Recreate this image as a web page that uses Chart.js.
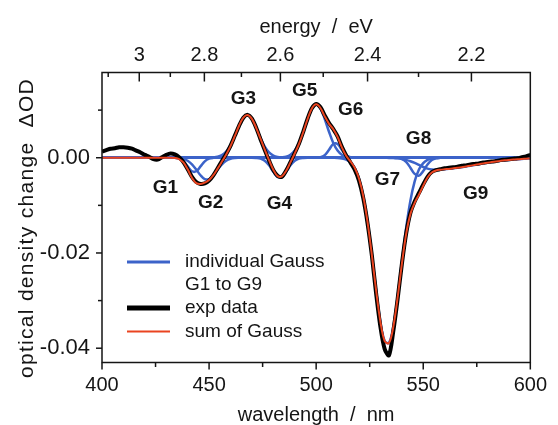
<!DOCTYPE html>
<html>
<head>
<meta charset="utf-8">
<script src="https://cdn.jsdelivr.net/npm/chart.js@4.4.0/dist/chart.umd.min.js"></script>
<style>
  html, body { margin: 0; padding: 0; background: #ffffff; }
  #wrap { width: 558px; height: 425px; }
</style>
</head>
<body>
<div id="wrap"><canvas id="chart" width="558" height="425"></canvas></div>
<script>
// Wavelength grid (nm) of the measured spectrum and of the fitted sum
const wavelength = [400,402,404,406,408,410,412,414,416,418,420,422,424,426,428,430,432,434,436,438,
  440,442,444,446,448,450,452,454,456,458,460,462,464,466,468,470,472,474,476,478,
  480,482,484,486,488,490,492,494,496,498,500,502,504,506,508,510,512,514,516,518,
  520,522,524,526,528,530,532,534,536,538,540,542,544,546,548,550,552,554,556,558,
  560,562,564,566,568,570,572,574,576,578,580,582,584,586,588,590,592,594,596,598,600];

// Measured transient absorption (ΔOD)
const expData = [0.0013,0.0016,0.0019,0.0020,0.0022,0.0022,0.0021,0.0019,0.0015,0.0011,
  0.0006,0.0002,-0.0003,-0.0004,0.0001,0.0006,0.0009,0.0007,0.0001,-0.0009,
  -0.0024,-0.0040,-0.0051,-0.0055,-0.0054,-0.0048,-0.0037,-0.0022,-0.0007,0.0008,
  0.0025,0.0046,0.0067,0.0084,0.0090,0.0082,0.0063,0.0039,0.0016,-0.0006,
  -0.0026,-0.0038,-0.0040,-0.0027,-0.0009,0.0010,0.0030,0.0055,0.0082,0.0104,
  0.0113,0.0106,0.0089,0.0073,0.0060,0.0045,0.0023,0.0005,-0.0010,-0.0025,
  -0.0048,-0.0085,-0.0138,-0.0205,-0.0285,-0.0355,-0.0402,-0.0415,-0.0365,-0.0298,
  -0.0224,-0.0160,-0.0116,-0.0092,-0.0074,-0.0056,-0.0040,-0.0030,-0.0026,-0.0024,
  -0.0022,-0.0021,-0.0020,-0.0019,-0.0017,-0.0016,-0.0014,-0.0013,-0.0012,-0.0010,
  -0.0009,-0.0008,-0.0007,-0.0005,-0.0004,-0.0003,-0.0002,-0.0001,0.0001,0.0003,0.0006];

// Sum of the nine Gaussian components
const gaussSum = [0,0,0,0,0,0,0,0,0,0,0,0,0,0,0,0,0,
  -0.00005,-0.00027,-0.00098,-0.00244,-0.00421,-0.00532,-0.00550,-0.00524,-0.00467,-0.00365,
  -0.00228,-0.00081,0.00070,0.00244,0.00452,0.00672,0.00844,0.00899,0.00817,0.00628,
  0.00399,0.00172,-0.00048,-0.00251,-0.00386,-0.00392,-0.00275,-0.00097,0.00089,0.00293,
  0.00541,0.00813,0.01034,0.01121,0.01045,0.00869,0.00712,0.00599,0.00437,0.00216,
  0.00040,-0.00076,-0.00211,-0.00437,-0.00808,-0.01350,-0.02040,-0.02788,-0.03446,-0.03850,
  -0.03892,-0.03557,-0.02950,-0.02238,-0.01610,-0.01184,-0.00947,-0.00776,-0.00586,-0.00415,
  -0.00312,-0.00267,-0.00251,-0.00242,-0.00234,-0.00223,-0.00211,-0.00198,-0.00183,-0.00168,
  -0.00152,-0.00136,-0.00120,-0.00105,-0.00091,-0.00078,-0.00066,-0.00055,-0.00046,-0.00038,
  -0.00030,-0.00024,-0.00019,-0.00015];

// Individual Gaussian components G1 ... G9 (wavelength, ΔOD)
const g1Wavelength = [400,432,434,436,438,440,442,444,446,448,450,452,454,600];
const g1Value = [0,0,-0.00003,-0.00020,-0.00075,-0.00182,-0.00284,-0.00284,-0.00182,-0.00075,-0.00020,-0.00003,0,0];

const g2Wavelength = [400,432,434,436,438,440,442,444,446,448,450,452,454,456,458,460,462,464,466,600];
const g2Value = [0,0,-0.00002,-0.00007,-0.00023,-0.00062,-0.00137,-0.00248,-0.00368,-0.00449,-0.00449,-0.00368,-0.00248,-0.00137,-0.00062,-0.00023,-0.00007,-0.00002,0,0];

const g3Wavelength = [400,448,450,452,454,456,458,460,462,464,466,468,470,472,474,476,478,480,482,484,486,600];
const g3Value = [0,0,0.00002,0.00006,0.00020,0.00056,0.00132,0.00267,0.00459,0.00674,0.00844,0.00899,0.00817,0.00632,0.00417,0.00235,0.00112,0.00046,0.00016,0.00005,0,0];

const g4Wavelength = [400,470,472,474,476,478,480,482,484,486,488,490,492,494,496,600];
const g4Value = [0,0,-0.00004,-0.00018,-0.00063,-0.00160,-0.00297,-0.00404,-0.00404,-0.00297,-0.00160,-0.00063,-0.00018,-0.00004,0,0];

const g5Wavelength = [400,480,482,484,486,488,490,492,494,496,498,500,502,504,506,508,510,512,514,516,518,520,600];
const g5Value = [0,0,0.00002,0.00007,0.00022,0.00063,0.00152,0.00311,0.00545,0.00813,0.01034,0.01120,0.01034,0.00813,0.00545,0.00311,0.00152,0.00063,0.00022,0.00007,0.00002,0,0];

const g6Wavelength = [400,498,500,502,504,506,508,510,512,514,516,518,520,600];
const g6Value = [0,0,0.00001,0.00011,0.00056,0.00167,0.00289,0.00289,0.00167,0.00056,0.00011,0.00001,0,0];

const g7Wavelength = [400,506,508,510,512,514,516,518,520,522,524,526,528,530,532,534,536,538,540,542,544,546,548,550,552,554,556,558,560,600];
const g7Value = [0,0,-0.00001,-0.00004,-0.00014,-0.00038,-0.00094,-0.00214,-0.00437,-0.00808,-0.01350,-0.02040,-0.02788,-0.03446,-0.03849,-0.03889,-0.03551,-0.02932,-0.02189,-0.01478,-0.00902,-0.00498,-0.00249,-0.00112,-0.00046,-0.00017,-0.00006,-0.00002,0,0];

const g8Wavelength = [400,536,538,540,542,544,546,548,550,552,554,556,558,560,600];
const g8Value = [0,0,-0.00005,-0.00024,-0.00087,-0.00209,-0.00340,-0.00375,-0.00280,-0.00141,-0.00048,-0.00011,-0.00002,0,0];

const g9Wavelength = [400,530,532,534,536,538,540,542,544,546,548,550,552,554,556,558,560,562,564,566,568,570,
  572,574,576,578,580,582,584,586,588,590,592,594,596,598,600];
const g9Value = [0,0,-0.00001,-0.00003,-0.00006,-0.00013,-0.00025,-0.00045,-0.00073,-0.00109,-0.00152,-0.00194,
  -0.00228,-0.00247,-0.00250,-0.00247,-0.00242,-0.00234,-0.00223,-0.00211,-0.00198,-0.00183,-0.00168,-0.00152,
  -0.00136,-0.00120,-0.00105,-0.00091,-0.00078,-0.00066,-0.00055,-0.00046,-0.00038,-0.00030,-0.00024,-0.00019,-0.00015];

// Component names and where their tags sit (wavelength, ΔOD)
const gaussNames = ['G1','G2','G3','G4','G5','G6','G7','G8','G9'];
const gaussTagWavelength = [429.6, 450.7, 466.0, 482.8, 494.6, 516.1, 533.3, 547.8, 574.5];
const gaussTagValue = [-0.00625, -0.0094, 0.01232, -0.00972, 0.0140, 0.0100, -0.00468, 0.00407, -0.00747];

// Axis ticks
const wavelengthMajor = [400, 450, 500, 550, 600];
const wavelengthMinor = [425, 475, 525, 575];
const odMajor = [0, -0.02, -0.04];
const odMinor = [0.01, -0.01, -0.03];
const energyMajor = [3, 2.8, 2.6, 2.4, 2.2];
const energyMajorWavelength = [417.4, 447.8, 483.3, 524.0, 572.5];
const energyMinor = [3.1, 2.9, 2.7, 2.5, 2.3];
const energyMinorWavelength = [402.9, 431.9, 465.1, 503.3, 547.8];

const yTitle = 'optical density change  ΔOD';

const FONT = "'Liberation Sans', Arial, Helvetica, sans-serif";
const INK = '#151515';
const BLUE = '#3c63c9';
const RED = '#ea4420';

const pairs = (xs, ys) => xs.map((x, i) => ({ x: x, y: ys[i] }));

const gaussSets = [
  [g1Wavelength, g1Value], [g2Wavelength, g2Value], [g3Wavelength, g3Value],
  [g4Wavelength, g4Value], [g5Wavelength, g5Value], [g6Wavelength, g6Value],
  [g7Wavelength, g7Value], [g8Wavelength, g8Value], [g9Wavelength, g9Value]
].map((g, i) => ({
  label: gaussNames[i],
  data: pairs(g[0], g[1]),
  borderColor: BLUE,
  borderWidth: 2.5,
  order: 3,
  tension: 0.35
}));

const datasets = gaussSets.concat([
  { label: 'exp data', data: pairs(wavelength, expData), borderColor: '#000000', borderWidth: 4, order: 2, tension: 0.3 },
  { label: 'sum of Gauss', data: pairs(wavelength, gaussSum), borderColor: RED, borderWidth: 2, order: 1, tension: 0.35 }
]);

// Frame, tick marks, y title, component tags and the legend box
const decorations = {
  id: 'decorations',
  afterDraw(chart) {
    const { ctx, chartArea: a, scales } = chart;
    const x = scales.x, xTop = scales.xTop, y = scales.y;
    ctx.save();
    ctx.strokeStyle = INK;
    ctx.lineWidth = 1.5;
    ctx.strokeRect(a.left, a.top, a.right - a.left, a.bottom - a.top);
    const line = (x1, y1, x2, y2) => { ctx.beginPath(); ctx.moveTo(x1, y1); ctx.lineTo(x2, y2); ctx.stroke(); };
    wavelengthMajor.forEach(v => { const p = x.getPixelForValue(v); line(p, a.bottom, p, a.bottom + 7); });
    wavelengthMinor.forEach(v => { const p = x.getPixelForValue(v); line(p, a.bottom, p, a.bottom + 4.5); });
    energyMajorWavelength.forEach(v => { const p = xTop.getPixelForValue(v); line(p, a.top, p, a.top + 9); });
    energyMinorWavelength.forEach(v => { const p = xTop.getPixelForValue(v); line(p, a.top, p, a.top + 4.5); });
    odMajor.forEach(v => { const p = y.getPixelForValue(v); line(a.left - 6, p, a.left, p); });
    odMinor.forEach(v => { const p = y.getPixelForValue(v); line(a.left - 4, p, a.left, p); });

    // rotated y-axis title
    ctx.save();
    ctx.translate(27.5, a.top + 155.5);
    ctx.rotate(-Math.PI / 2);
    ctx.fillStyle = INK;
    ctx.font = '21px ' + FONT;
    if ('letterSpacing' in ctx) ctx.letterSpacing = '1.3px';
    ctx.textAlign = 'center';
    ctx.textBaseline = 'middle';
    ctx.fillText(yTitle, 0, 0);
    ctx.restore();

    // component tags
    ctx.fillStyle = INK;
    ctx.font = 'bold 19px ' + FONT;
    ctx.textAlign = 'center';
    ctx.textBaseline = 'middle';
    gaussNames.forEach((n, i) => {
      ctx.fillText(n, x.getPixelForValue(gaussTagWavelength[i]), y.getPixelForValue(gaussTagValue[i]));
    });

    // legend
    const sx1 = a.left + 25, sx2 = a.left + 68, tx = a.left + 83;
    const rows = [
      { y: a.top + 189.5, color: BLUE, width: 3, text: ['individual Gauss', 'G1 to G9'] },
      { y: a.top + 235.5, color: '#000000', width: 5, text: ['exp data'] },
      { y: a.top + 259, color: RED, width: 2, text: ['sum of Gauss'] }
    ];
    ctx.font = '19px ' + FONT;
    ctx.textAlign = 'left';
    rows.forEach(r => {
      ctx.strokeStyle = r.color;
      ctx.lineWidth = r.width;
      line(sx1, r.y, sx2, r.y);
      r.text.forEach((t, k) => ctx.fillText(t, tx, r.y + k * 23));
    });
    ctx.restore();
  }
};

new Chart(document.getElementById('chart'), {
  type: 'line',
  data: { datasets: datasets },
  options: {
    responsive: false,
    animation: false,
    devicePixelRatio: 1,
    layout: { padding: { left: 0, right: 20, top: 0, bottom: 0 } },
    elements: { point: { radius: 0 } },
    plugins: { legend: { display: false }, tooltip: { enabled: false } },
    scales: {
      x: {
        type: 'linear', position: 'bottom', min: 400, max: 600,
        afterBuildTicks: s => { s.ticks = wavelengthMajor.map(v => ({ value: v })); },
        afterFit: s => { s.height = 62.5; },
        grid: { display: false, drawTicks: false },
        border: { display: false },
        ticks: { autoSkip: false, maxRotation: 0, padding: 11, color: INK, font: { family: FONT, size: 20 }, callback: v => String(v) },
        title: { display: true, text: 'wavelength  /  nm', color: INK, font: { family: FONT, size: 20 }, padding: { top: 0, bottom: -2 } }
      },
      xTop: {
        type: 'linear', position: 'top', min: 400, max: 600,
        afterBuildTicks: s => { s.ticks = energyMajorWavelength.map(v => ({ value: v })); },
        afterFit: s => { s.height = 72.5; },
        grid: { display: false, drawTicks: false },
        border: { display: false },
        ticks: { autoSkip: false, maxRotation: 0, padding: 5, color: INK, font: { family: FONT, size: 20 }, callback: (v, i) => String(energyMajor[i]) },
        title: { display: true, text: 'energy  /  eV', color: INK, font: { family: FONT, size: 20 }, padding: { top: 15.5, bottom: 0 } }
      },
      y: {
        type: 'linear', position: 'left', min: -0.043, max: 0.0179,
        afterBuildTicks: s => { s.ticks = odMajor.map(v => ({ value: v })); },
        afterFit: s => { s.width = 102; },
        grid: { display: false, drawTicks: false },
        border: { display: false },
        ticks: { autoSkip: false, padding: 12, color: INK, font: { family: FONT, size: 22 }, callback: v => v.toFixed(2) },
        title: { display: false }
      }
    }
  },
  plugins: [decorations]
});
</script>
</body>
</html>
